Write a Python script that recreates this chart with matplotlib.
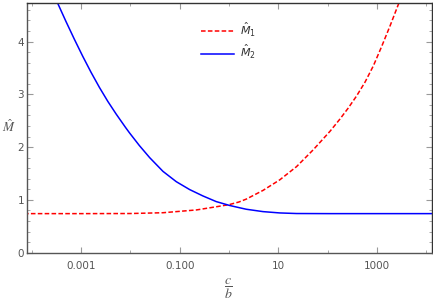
import numpy as np
import matplotlib
matplotlib.use("Agg")
import matplotlib.pyplot as plt
from matplotlib.ticker import FixedLocator, FixedFormatter, MultipleLocator

# values (x = c/b, given as log10)
m1_logx = [-4.3, -3.0, -2.0, -1.34, -0.66, -0.26, 0.0, 0.2, 0.35, 0.69, 1.03,
           1.37, 1.71, 2.05, 2.25, 2.42, 2.59, 2.76, 2.93, 3.10, 3.27, 3.44, 3.6]
m1_vals = [0.74, 0.74, 0.742, 0.757, 0.81, 0.87, 0.91, 0.96, 1.015, 1.18, 1.38,
           1.63, 1.95, 2.30, 2.53, 2.74, 2.97, 3.23, 3.54, 3.91, 4.30, 4.71, 5.09]

m2_logx = [-3.65, -3.48, -3.31, -3.14, -2.97, -2.80, -2.63, -2.46, -2.29, -2.10,
           -2.02, -1.82, -1.61, -1.34, -1.07, -0.80, -0.53, -0.26, 0.01, 0.22,
           0.35, 0.69, 1.03, 1.37, 2.05, 4.3]
m2_vals = [5.09, 4.73, 4.381, 4.045, 3.722, 3.416, 3.13, 2.866, 2.625, 2.372,
           2.27, 2.03, 1.80, 1.54, 1.345, 1.196, 1.075, 0.968, 0.895, 0.85,
           0.823, 0.778, 0.753, 0.742, 0.74, 0.74]

x_major = [1e-3, 1e-1, 1e1, 1e3]
x_labels = ["0.001", "0.100", "10", "1000"]
x_minor = [1e-4, 1e-2, 1e0, 1e2, 1e4]

GRAY = "#555555"

fig = plt.figure(figsize=(4.33, 3.05), dpi=100)
ax = fig.add_axes([0.0624, 0.1715, 0.9353, 0.8187])

ax.plot(10 ** np.array(m1_logx), m1_vals, color="#ff0000", lw=1.1, ls=(0, (3.0, 1.5)),
        label=r"$\hat{M}_1$")
ax.plot(10 ** np.array(m2_logx), m2_vals, color="#0000ff", lw=1.1, label=r"$\hat{M}_2$")

ax.set_xscale("log")
ax.set_xlim(10 ** -4.1, 10 ** 4.12)
ax.set_ylim(0, 4.73)

ax.xaxis.set_major_locator(FixedLocator(x_major))
ax.xaxis.set_major_formatter(FixedFormatter(x_labels))
ax.xaxis.set_minor_locator(FixedLocator(x_minor))
ax.xaxis.set_minor_formatter(FixedFormatter([]))
ax.yaxis.set_major_locator(MultipleLocator(1))
ax.yaxis.set_minor_locator(MultipleLocator(0.2))

ax.tick_params(which="both", direction="in", top=True, right=True,
               colors="#999999", labelcolor=GRAY, labelsize=7.5)
ax.tick_params(which="major", length=4, width=0.8)
ax.tick_params(which="minor", length=2.2, width=0.6)
ax.tick_params(axis="x", which="both", pad=6)
ax.tick_params(axis="y", which="both", pad=2)

for side in ("left", "bottom"):
    ax.spines[side].set_color(GRAY)
for side in ("top", "right"):
    ax.spines[side].set_color("#333333")
for s in ax.spines.values():
    s.set_linewidth(1.0)

ylab = ax.set_ylabel(r"$\hat{M}$", rotation=0, color=GRAY, fontsize=9.5)
ylab.set_math_fontfamily("stix")
ax.yaxis.set_label_coords(-0.045, 0.47)
xlab = ax.set_xlabel(r"$\dfrac{c}{b}$", color=GRAY, fontsize=10)
xlab.set_math_fontfamily("stix")
ax.xaxis.set_label_coords(0.497, -0.095)

ax.legend(loc="upper left", bbox_to_anchor=(0.405, 0.97), frameon=False,
          fontsize=8, handlelength=3.0, handletextpad=0.5, labelspacing=0.4,
          labelcolor="#333333")

fig.savefig("out.png", dpi=100, facecolor="white")
